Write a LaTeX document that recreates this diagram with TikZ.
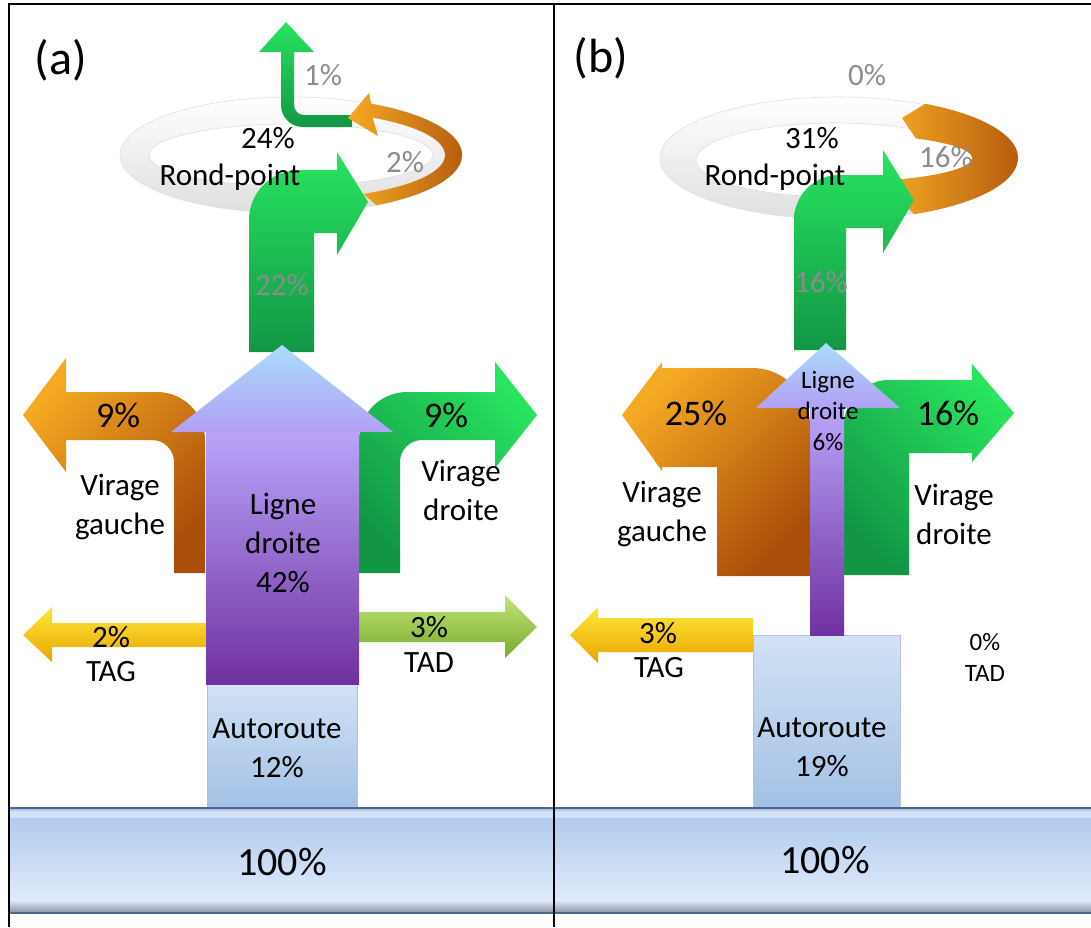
\documentclass[tikz,border=0pt]{standalone}
\usepackage{fontspec}
\setmainfont{Carlito}
\usepackage{tikz}

\definecolor{orLight}{RGB}{245,170,35}
\definecolor{orDark}{RGB}{170,78,10}
\definecolor{grLight}{RGB}{40,228,95}
\definecolor{grDark}{RGB}{18,150,70}
\definecolor{puLight}{RGB}{185,165,250}
\definecolor{puMid}{RGB}{160,100,240}
\definecolor{puDark}{RGB}{112,48,160}
\definecolor{hdTop}{RGB}{170,220,250}
\definecolor{hdBot}{RGB}{178,160,245}
\definecolor{yeLight}{RGB}{255,232,60}
\definecolor{yeDark}{RGB}{232,165,0}
\definecolor{liLight}{RGB}{195,230,120}
\definecolor{liDark}{RGB}{118,168,45}
\definecolor{blTop}{RGB}{172,198,236}
\definecolor{blBot}{RGB}{224,235,251}
\definecolor{blShadow}{RGB}{135,145,165}
\definecolor{auTop}{RGB}{210,225,245}
\definecolor{auBot}{RGB}{163,193,229}
\definecolor{edge}{RGB}{80,100,140}
\definecolor{txGray}{RGB}{140,140,140}

\begin{document}
\begin{tikzpicture}[x=0.5pt,y=-0.5pt,
	lbl/.style={align=center,font=\fontsize{15.5}{19.5}\selectfont,inner sep=0pt},
	faint/.style={lbl,text=txGray},
	big/.style={font=\fontsize{18}{22}\selectfont,inner sep=0pt},
	huge/.style={font=\fontsize{20}{24}\selectfont,inner sep=0pt},
	title/.style={font=\fontsize{24}{28}\selectfont,inner sep=0pt},
	small/.style={align=center,font=\fontsize{12.5}{15.5}\selectfont,inner sep=0pt},
	ringfill/.style={top color=white,bottom color=gray!25,draw=gray!25,line width=0.3pt,even odd rule},
	orfill/.style={top color=orLight,bottom color=orDark,shading angle=45},
	orarc/.style={left color=orLight,right color=orDark},
	grfill/.style={top color=grLight,bottom color=grDark,shading angle=-45},
	grup/.style={top color=grLight,bottom color=grDark},
	yefill/.style={top color=yeLight,bottom color=yeDark},
	lifill/.style={top color=liLight,bottom color=liDark},
	pushaft/.style={top color=puLight,middle color=puMid,bottom color=puDark},
	puhead/.style={top color=hdTop,bottom color=hdBot},
	aufill/.style={top color=auTop,bottom color=auBot,draw=edge!40,line width=0.3pt},
	barfill/.style={top color=blTop,bottom color=blBot},
	barlow/.style={top color=blBot,bottom color=blShadow},
	barline/.style={draw=edge,line width=0.8pt},
	frame/.style={line width=1.1pt}]
	\useasboundingbox (0,0) rectangle (1091,927);
	\fill[white] (0,0) rectangle (1091,927);

	\shade[ringfill] (291,155) ellipse[x radius=171,y radius=58] (291,155) ellipse[x radius=142,y radius=31];
	\shade[grup] (281,52) -- (281,105) arc[start angle=180,end angle=90,radius=22] -- (352,127) -- (352,115) -- (304,115) arc[start angle=90,end angle=180,radius=10] -- (294,52) -- (314,52) -- (286,22) -- (259,52) -- cycle;
	\shade[orarc,shift={(291,155)}] (60:171 and 58) arc[start angle=60,end angle=-62,x radius=171,y radius=58] -- (78,-62) -- (57,-37) -- (87,-19) -- (-58:154 and 44) arc[start angle=-58,end angle=62,x radius=154,y radius=44] -- cycle;
	\shade[grup] (249,352) -- (249,220) arc[start angle=180,end angle=270,radius=50] -- (337,170) -- (337,152) -- (368,202) -- (337,255) -- (337,233) -- (314,233) -- (314,352) -- cycle;
	\shade[orfill] (23,415) -- (66,358) -- (66,392) -- (157,392) arc[start angle=-90,end angle=0,radius=48] -- (205,573) -- (174,573) -- (174,462) arc[start angle=0,end angle=-90,radius=22] -- (66,440) -- (66,472) -- cycle;
	\shade[grfill] (537,415) -- (495,362) -- (495,392) -- (407,392) arc[start angle=-90,end angle=-180,radius=48] -- (359,573) -- (400,573) -- (400,462) arc[start angle=180,end angle=270,radius=22] -- (495,440) -- (495,468) -- cycle;
	\shade[yefill] (23,635) -- (52,607) -- (52,623) -- (206,623) -- (206,647) -- (52,647) -- (52,662) -- cycle;
	\shade[lifill] (359,612) -- (505,612) -- (505,595) -- (537,627) -- (505,658) -- (505,642) -- (359,642) -- cycle;
	\shade[aufill] (207,684) rectangle (357,808);
	\shade[barfill] (9,808) rectangle (553,900);
	\shade[barlow] (9,900) rectangle (553,913);
	\fill[white,opacity=0.45] (9,811) rectangle (553,818);
	\draw[barline] (9,808) -- (553,808);
	\draw[barline] (9,913) -- (553,913);
	\shade[pushaft] (206,431) rectangle (359,684);
	\shade[puhead] (171,432) -- (282,345) -- (393,432) -- cycle;

	\shade[ringfill] (838,158) ellipse[x radius=178,y radius=61] (836,160) ellipse[x radius=140,y radius=37];
	\shade[orarc,shift={(838,158)}] (65:180 and 62) arc[start angle=65,end angle=-61,x radius=180,y radius=62] -- (64,-40) -- (-54.5:134 and 24) arc[start angle=-54.5,end angle=70,x radius=134,y radius=24] -- cycle;
	\shade[grup] (794,350) -- (794,220) arc[start angle=180,end angle=270,radius=45] -- (883,175) -- (883,150) -- (914,200) -- (883,253) -- (883,228) -- (846,228) -- (846,350) -- cycle;
	\shade[orfill] (622,415) -- (662,362) -- (662,368) -- (752,368) arc[start angle=-90,end angle=0,radius=58] -- (810,576) -- (717,576) -- (717,467) -- (662,467) -- (662,471) -- cycle;
	\shade[grfill] (1014,413) -- (972,364) -- (972,380) -- (889,380) arc[start angle=-90,end angle=-180,radius=45] -- (844,575) -- (909,575) -- (909,453) -- (972,453) -- (972,462) -- cycle;
	\shade[yefill] (570,635) -- (598,607) -- (598,618) -- (753,618) -- (753,652) -- (598,652) -- (598,663) -- cycle;
	\shade[aufill] (753,635) rectangle (900,808);
	\shade[barfill] (555,808) rectangle (1091,900);
	\shade[barlow] (555,900) rectangle (1091,913);
	\fill[white,opacity=0.45] (555,811) rectangle (1091,818);
	\draw[barline] (555,808) -- (1091,808);
	\draw[barline] (555,913) -- (1091,913);
	\shade[pushaft] (810,407) rectangle (844,635);
	\shade[puhead] (756,408) -- (826,343) -- (900,408) -- cycle;

	\draw[frame] (9,927) -- (9,4) -- (1091,4);
	\draw[frame] (554,4) -- (554,927);

	\node[title] (titleA) at (61,60) {(a)};
	\node[faint] (exitA) at (323,75) {1\%};
	\node[lbl] (ringpA) at (268,138) {24\%};
	\node[lbl] (rondA) at (230,177) {Rond-point};
	\node[faint] (loopA) at (405,162) {2\%};
	\node[faint] (aheadA) at (282,285) {22\%};
	\node[big] (leftpA) at (118,415) {9\%};
	\node[big] (rightpA) at (446,415) {9\%};
	\node[lbl] (leftA) at (120,507) {Virage\\gauche};
	\node[lbl] (rightA) at (461,490) {Virage\\droite};
	\node[lbl] (straightA) at (283,543) {Ligne\\droite\\42\%};
	\node[lbl] (tagpA) at (111,637) {2\%};
	\node[lbl] (tagA) at (111,672) {TAG};
	\node[lbl] (tadpA) at (429,627) {3\%};
	\node[lbl] (tadA) at (429,663) {TAD};
	\node[lbl] (motorA) at (277,748) {Autoroute\\12\%};
	\node[huge] (totalA) at (282,862) {100\%};

	\node[title] (titleB) at (601,58) {(b)};
	\node[faint] (exitB) at (867,75) {0\%};
	\node[lbl] (ringpB) at (812,138) {31\%};
	\node[lbl] (rondB) at (775,177) {Rond-point};
	\node[faint] (loopB) at (946,157) {16\%};
	\node[faint] (aheadB) at (821,282) {16\%};
	\node[small] (straightB) at (828,411) {Ligne\\droite\\6\%};
	\node[big] (leftpB) at (696,413) {25\%};
	\node[big] (rightpB) at (948,413) {16\%};
	\node[lbl] (leftB) at (662,514) {Virage\\gauche};
	\node[lbl] (rightB) at (954,514) {Virage\\droite};
	\node[lbl] (tagpB) at (658,633) {3\%};
	\node[lbl] (tagB) at (659,668) {TAG};
	\node[small] (tadB) at (985,657) {0\%\\TAD};
	\node[lbl] (motorB) at (822,747) {Autoroute\\19\%};
	\node[huge] (totalB) at (825,860) {100\%};
\end{tikzpicture}
\end{document}
